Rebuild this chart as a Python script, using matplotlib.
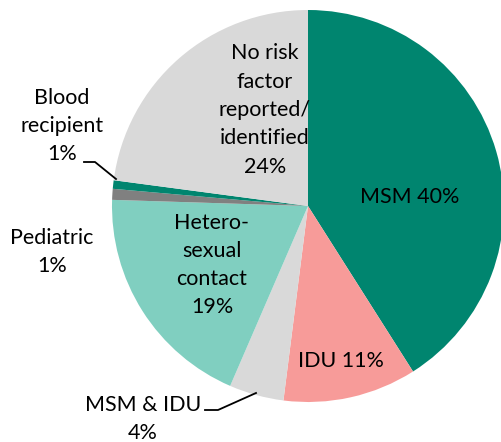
import matplotlib.pyplot as plt

categories = ["MSM", "IDU", "MSM & IDU", "Heterosexual contact", "Pediatric",
              "Blood recipient", "No risk factor reported/identified"]
shares = [41.0, 11.0, 4.5, 19.0, 0.9, 0.7, 22.9]
label_pct = [40, 11, 4, 19, 1, 1, 24]
colors = ["#00856F", "#F79B99", "#D9D9D9", "#80CFC0", "#808080", "#00856F", "#D9D9D9"]

plt.rcParams['font.family'] = ['Lato', 'DejaVu Sans']

W, H = 502, 442
fig = plt.figure(figsize=(W / 100, H / 100), dpi=100)
ax = fig.add_axes([0, 0, 1, 1])

# pixel-style coordinates: y measured from the top
def Y(y):
    return H - y

ax.pie(shares, colors=colors, startangle=90, counterclock=False,
       center=(308, Y(206)), radius=196, frame=True,
       wedgeprops=dict(linewidth=0))
ax.set_xlim(0, W)
ax.set_ylim(0, H)
ax.set_aspect('equal')
ax.axis('off')

fs = 15.5
ls = 1.52
ax.text(410, Y(197), f"MSM {label_pct[0]}%", ha='center', va='center', fontsize=fs)
ax.text(341, Y(361), f"IDU {label_pct[1]}%", ha='center', va='center', fontsize=fs)
ax.text(212, Y(265), f"Hetero-\nsexual\ncontact\n{label_pct[3]}%", ha='center', va='center',
        fontsize=fs, linespacing=ls)
ax.text(265, Y(110), f"No risk\nfactor\nreported/\nidentified\n{label_pct[6]}%", ha='center',
        va='center', fontsize=fs, linespacing=ls)
ax.text(62, Y(126), f"Blood\nrecipient\n{label_pct[5]}%", ha='center', va='center',
        fontsize=fs, linespacing=ls)
ax.text(52, Y(252), f"Pediatric\n{label_pct[4]}%", ha='center', va='center',
        fontsize=fs, linespacing=ls)
ax.text(143, Y(419), f"MSM & IDU\n{label_pct[2]}%", ha='center', va='center',
        fontsize=fs, linespacing=ls)

# leader lines
ax.plot([84, 95, 116], [Y(162), Y(162), Y(179)], color='black', lw=1.3)
ax.plot([205, 218, 256], [Y(410), Y(410), Y(393)], color='black', lw=1.3)

fig.savefig("out.png", dpi=100)
